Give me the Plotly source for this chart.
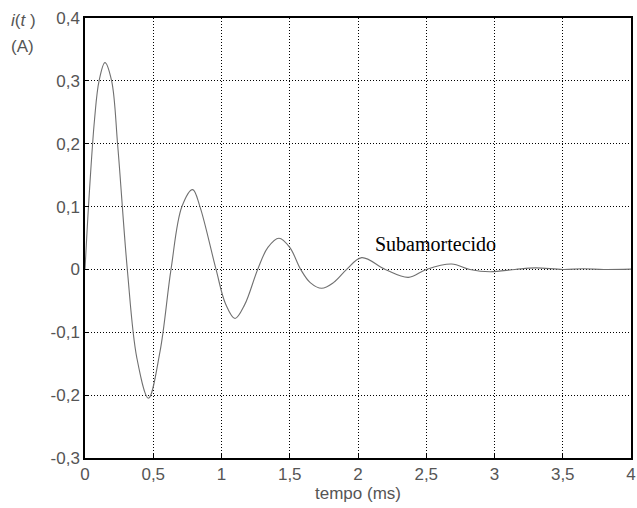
import plotly.graph_objects as go

# Values (time in ms, current in A)
tempo_ms = [0.0, 0.03, 0.07, 0.103, 0.146, 0.195, 0.24, 0.31, 0.38, 0.465, 0.55, 0.63,
            0.71, 0.789, 0.842, 0.96, 1.03, 1.099, 1.17, 1.265, 1.34, 1.421, 1.50, 1.58,
            1.65, 1.734, 1.82, 1.917, 2.027, 2.2, 2.369, 2.5, 2.686, 2.82, 2.967,
            3.15, 3.3, 3.5, 3.65, 3.8, 4.0]
corrente_A = [0.0, 0.116, 0.239, 0.300, 0.329, 0.300, 0.196, 0.0, -0.141, -0.205, -0.130, 0.0,
              0.100, 0.127, 0.100, 0.0, -0.055, -0.078, -0.056, 0.0, 0.035, 0.0495, 0.035, 0.0,
              -0.021, -0.030, -0.021, 0.0, 0.0187, 0.0, -0.0126, 0.0, 0.0086, 0.0, -0.0036,
              0.0, 0.0025, 0.0, 0.001, 0.0, 0.0005]

x_ticks = [0, 0.5, 1, 1.5, 2, 2.5, 3, 3.5, 4]
x_labels = ["0", "0,5", "1", "1,5", "2", "2,5", "3", "3,5", "4"]
y_ticks = [-0.3, -0.2, -0.1, 0, 0.1, 0.2, 0.3, 0.4]
y_labels = ["-0,3", "-0,2", "-0,1", "0", "0,1", "0,2", "0,3", "0,4"]

fig = go.Figure()
fig.add_trace(go.Scatter(
    x=tempo_ms, y=corrente_A, mode="lines",
    line=dict(color="#707070", width=1.1, shape="spline", smoothing=1.0),
    showlegend=False, hoverinfo="skip"))

tick_font = dict(family="Liberation Sans", size=17, color="#555555")

fig.update_layout(
    width=637, height=508,
    margin=dict(l=85, r=6, t=18, b=50, autoexpand=False),
    paper_bgcolor="white", plot_bgcolor="white",
    xaxis=dict(range=[0, 4], tickvals=x_ticks, ticktext=x_labels, automargin=False,
               showgrid=True, gridcolor="black", griddash="1px,2px", gridwidth=1,
               zeroline=False, showline=True, linecolor="black", linewidth=1.5,
               mirror=True, ticks="inside", ticklen=4, tickcolor="black",
               tickfont=tick_font,
               title=dict(text="tempo (ms)", font=tick_font, standoff=0)),
    yaxis=dict(range=[-0.3, 0.4], tickvals=y_ticks, ticktext=y_labels, automargin=False,
               showgrid=True, gridcolor="black", griddash="1px,2px", gridwidth=1,
               zeroline=False, showline=True, linecolor="black", linewidth=1.5,
               mirror=True, ticks="inside", ticklen=4, tickcolor="black",
               tickfont=tick_font),
)

fig.add_annotation(x=2.57, y=0.040, xref="x", yref="y", text="Subamortecido",
                   showarrow=False,
                   font=dict(family="Liberation Serif", size=20, color="black"))
fig.add_annotation(x=-0.139, y=0.995, xref="paper", yref="paper", text="<i>i</i>(<i>t</i> )",
                   xanchor="left", yanchor="middle", showarrow=False,
                   font=dict(family="Liberation Sans", size=17, color="#555555"))
fig.add_annotation(x=-0.139, y=0.936, xref="paper", yref="paper", text="(A)",
                   xanchor="left", yanchor="middle", showarrow=False,
                   font=dict(family="Liberation Sans", size=17, color="#555555"))

fig.write_html("out.html", config={"displayModeBar": False},
               post_script="document.body.style.margin='0';document.body.style.overflow='hidden';")
